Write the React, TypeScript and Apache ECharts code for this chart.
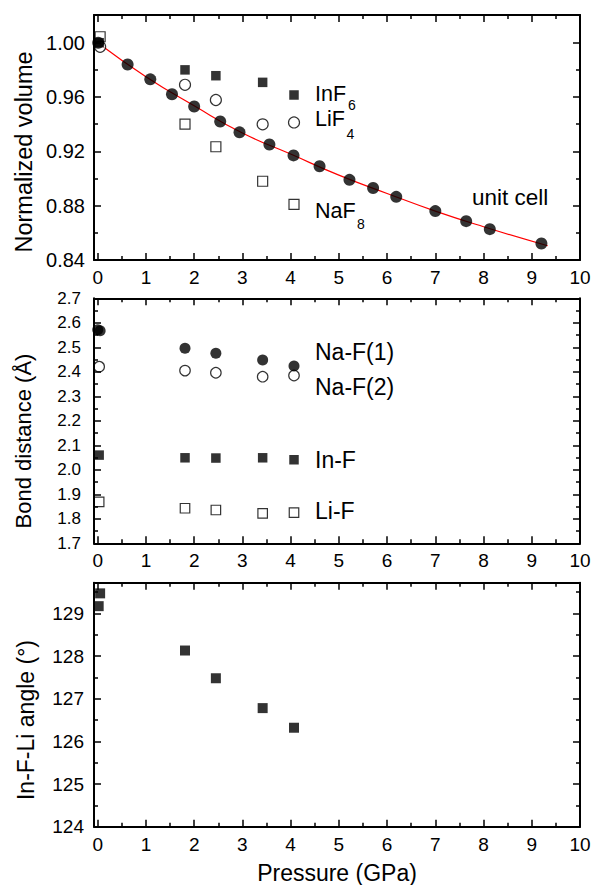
import { useEffect, useRef } from 'react';
import * as echarts from 'echarts';

// ---------- axes ----------
const xMajor = [0, 1, 2, 3, 4, 5, 6, 7, 8, 9, 10];
const xMinor = [0.5, 1.5, 2.5, 3.5, 4.5, 5.5, 6.5, 7.5, 8.5, 9.5];
const volMajor = [0.84, 0.88, 0.92, 0.96, 1.0];
const volMinor = [0.86, 0.9, 0.94, 0.98];
const bondMajor = [1.7, 1.8, 1.9, 2.0, 2.1, 2.2, 2.3, 2.4, 2.5, 2.6, 2.7];
const bondMinor = [1.75, 1.85, 1.95, 2.05, 2.15, 2.25, 2.35, 2.45, 2.55, 2.65];
const angleMajor = [124, 125, 126, 127, 128, 129];
const angleMinor = [124.5, 125.5, 126.5, 127.5, 128.5, 129.5];

// ---------- top panel: normalized volume ----------
const unitCellP = [0.01, 0.62, 1.09, 1.54, 2.0, 2.54, 2.94, 3.56, 4.06, 4.6, 5.22, 5.71, 6.19, 7.0, 7.64, 8.13, 9.2];
const unitCellV = [1.0, 0.984, 0.973, 0.962, 0.953, 0.942, 0.934, 0.925, 0.917, 0.909, 0.899, 0.893, 0.8865, 0.876, 0.8686, 0.8627, 0.8522];
const fitP = [0, 1, 2, 3, 4, 5, 6, 7, 8, 9.33];
const fitV = [1.0, 0.975, 0.9535, 0.9335, 0.918, 0.9025, 0.889, 0.876, 0.8645, 0.8505];
const inF6P = [0.03, 1.81, 2.45, 3.42, 4.07];
const inF6V = [1.0, 0.98, 0.9757, 0.9708, 0.9615];
const liF4P = [0.05, 1.81, 2.45, 3.42, 4.07];
const liF4V = [0.997, 0.969, 0.9578, 0.9399, 0.9413];
const naF8P = [0.05, 1.81, 2.45, 3.42, 4.07];
const naF8V = [1.0044, 0.94, 0.9234, 0.898, 0.881];

// ---------- middle panel: bond distances ----------
const naF1P = [0.0, 0.05, 1.81, 2.45, 3.42, 4.07];
const naF1V = [2.572, 2.568, 2.496, 2.476, 2.448, 2.424];
const naF2P = [0.03, 1.81, 2.45, 3.42, 4.07];
const naF2V = [2.421, 2.405, 2.396, 2.38, 2.385];
const inFP = [0.03, 1.81, 2.45, 3.42, 4.07];
const inFV = [2.06, 2.049, 2.048, 2.049, 2.041];
const liFP = [0.03, 1.81, 2.45, 3.42, 4.07];
const liFV = [1.869, 1.843, 1.836, 1.822, 1.825];

// ---------- bottom panel: angle ----------
const angleP = [0.05, 0.02, 1.81, 2.45, 3.42, 4.07];
const angleV = [129.47, 129.17, 128.13, 127.48, 126.78, 126.32];

const FONT = 'Liberation Sans, Arial, Helvetica, sans-serif';
const zip = (a: number[], b: number[]) => a.map((v, i) => [v, b[i]]);

function makeAxes(
  dir: 'x' | 'y',
  gridIndex: number,
  min: number,
  max: number,
  major: number[],
  minor: number[],
  label: any
) {
  const positions = dir === 'x' ? ['bottom', 'top'] : ['left', 'right'];
  const out: any[] = [];
  positions.forEach((pos, pi) => {
    [true, false].forEach((isMajor) => {
      out.push({
        type: 'value',
        gridIndex,
        min,
        max,
        position: pos,
        axisLine: {
          show: isMajor,
          onZero: false,
          lineStyle: { color: '#000', width: 2 },
        },
        axisTick: {
          show: true,
          inside: true,
          length: isMajor ? 7 : 4,
          customValues: isMajor ? major : minor,
          lineStyle: { color: '#000', width: 1.5 },
        },
        axisLabel:
          pi === 0 && isMajor
            ? {
                show: true,
                customValues: major,
                color: '#000',
                fontFamily: FONT,
                ...label,
              }
            : { show: false },
        splitLine: { show: false },
        z: 5,
      });
    });
  });
  return out;
}

const filled = { color: '#000' };
const open = { color: '#fff', borderColor: '#000', borderWidth: 1.2 };

export default function App() {
  const ref = useRef<HTMLDivElement>(null);
  useEffect(() => {
    if (!ref.current) return;
    const chart = echarts.init(ref.current, null, { renderer: 'svg' });
    const xLabel = { fontSize: 19, margin: 8, formatter: (v: number) => String(v) };
    const xMin = -0.077;
    const xMax = 10;
    const grids = [
      { left: 94, width: 486, top: 15, height: 245 },
      { left: 94, width: 486, top: 298.3, height: 245 },
      { left: 94, width: 486, top: 582.7, height: 244 },
    ].map((g) => ({ ...g, containLabel: false, outerBoundsMode: 'none', show: false }));

    const xAxis = [
      ...makeAxes('x', 0, xMin, xMax, xMajor, xMinor, xLabel),
      ...makeAxes('x', 1, xMin, xMax, xMajor, xMinor, xLabel),
      ...makeAxes('x', 2, xMin, xMax, xMajor, xMinor, xLabel),
    ];
    const yAxis = [
      ...makeAxes('y', 0, 0.84, 1.0204, volMajor, volMinor, {
        fontSize: 20,
        margin: 9,
        formatter: (v: number) => v.toFixed(2),
      }),
      ...makeAxes('y', 1, 1.7, 2.7, bondMajor, bondMinor, {
        fontSize: 17,
        margin: 13,
        formatter: (v: number) => v.toFixed(1),
      }),
      ...makeAxes('y', 2, 124, 129.72, angleMajor, angleMinor, {
        fontSize: 19,
        margin: 10,
        formatter: (v: number) => String(Math.round(v)),
      }),
    ];

    const sc = (g: number, data: number[][], symbol: string, size: number, style: any, z = 3) => ({
      type: 'scatter',
      xAxisIndex: g * 4,
      yAxisIndex: g * 4,
      data,
      symbol,
      symbolSize: size,
      itemStyle: style,
      z,
      silent: true,
    });

    const text = (t: string, x: number, y: number, size: number, extra: any = {}) => ({
      type: 'text',
      x,
      y,
      z: 20,
      style: {
        text: t,
        fontSize: size,
        fontFamily: FONT,
        fill: '#000',
        align: 'left',
        verticalAlign: 'middle',
        ...extra,
      },
    });
    const vtext = (t: string, x: number, y: number, size: number) => ({
      type: 'text',
      x,
      y,
      rotation: Math.PI / 2,
      z: 20,
      style: {
        text: t,
        fontSize: size,
        fontFamily: FONT,
        fill: '#000',
        align: 'center',
        verticalAlign: 'middle',
      },
    });

    chart.setOption({
      animation: false,
      backgroundColor: '#fff',
      grid: grids,
      xAxis,
      yAxis,
      series: [
        {
          type: 'line',
          xAxisIndex: 0,
          yAxisIndex: 0,
          data: zip(fitP, fitV),
          smooth: true,
          symbol: 'none',
          lineStyle: { color: '#ff0000', width: 1.2 },
          z: 2,
          silent: true,
        },
        sc(0, zip(naF8P, naF8V), 'rect', 10, open),
        sc(0, zip(liF4P, liF4V), 'circle', 11, open),
        sc(0, zip(inF6P, inF6V), 'rect', 9.5, filled),
        sc(0, zip(unitCellP, unitCellV), 'circle', 12, filled, 4),
        sc(1, zip(naF2P, naF2V), 'circle', 10.5, open),
        sc(1, zip(naF1P, naF1V), 'circle', 11, filled),
        sc(1, zip(inFP, inFV), 'rect', 9.5, filled),
        sc(1, zip(liFP, liFV), 'rect', 9.5, open),
        sc(2, zip(angleP, angleV), 'rect', 10, filled),
      ],
      graphic: [
        text('InF', 315, 94, 21.5),
        text('6', 348, 105, 14),
        text('LiF', 315, 118.5, 21.5),
        text('4', 346.5, 134, 14),
        text('NaF', 315, 211, 21.5),
        text('8', 357, 224, 14),
        text('unit cell', 472, 197, 22.5),
        text('Na-F(1)', 315, 351.7, 23),
        text('Na-F(2)', 315, 387, 23),
        text('In-F', 315, 460, 23),
        text('Li-F', 315, 511, 23),
        vtext('Normalized volume', 24, 152, 23.5),
        vtext('Bond distance (Å)', 23.5, 441, 22),
        vtext('In-F-Li angle (°)', 26, 720, 23),
        text('Pressure (GPa)', 337, 873, 23, { align: 'center' }),
      ],
    });
    return () => chart.dispose();
  }, []);
  return (
    <div
      ref={ref}
      style={{ position: 'absolute', left: 0, top: 0, width: 592, height: 885, background: '#fff' }}
    />
  );
}
